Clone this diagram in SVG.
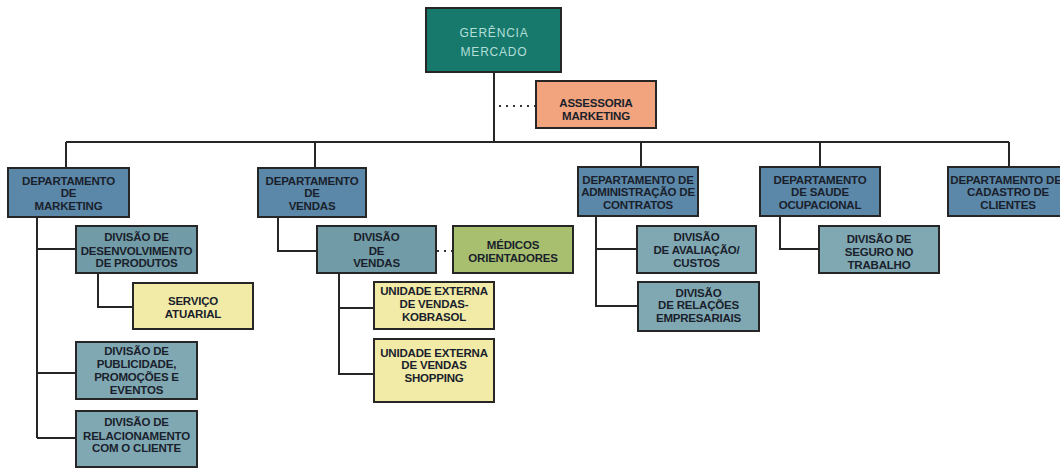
<svg xmlns="http://www.w3.org/2000/svg" width="1060" height="469" viewBox="0 0 1060 469">
<style>
.bx{stroke:#262626;stroke-width:2}
.top{fill:#16796c}
.adv{fill:#f1a47d}
.dep{fill:#5b87a8}
.div{fill:#719ba6}
.divl{fill:#80a8b3}
.yel{fill:#f2eba8}
.grn{fill:#a8bf6f}
.t{font-family:"Liberation Sans",Arial,sans-serif;font-weight:bold;font-size:11.5px;letter-spacing:-0.2px;fill:#1a1f2c;text-anchor:middle}
.tt{font-family:"Liberation Sans",Arial,sans-serif;font-size:12px;letter-spacing:0.8px;fill:#b3ded8;text-anchor:middle}
.ln{stroke:#262626;stroke-width:2;fill:none}
.dot{stroke:#333;stroke-width:2;fill:none;stroke-dasharray:2 5}
</style>
<rect width="1060" height="469" fill="#ffffff"/>
<g id="connectors">
<path class="ln" d="M494 72V142M66 142H1009M66 142V168M315 142V168M641 142V167M820 142V167M1009 142V167"/>
<path class="dot" d="M499 106H536"/>
<path class="ln" d="M37 217V438M37 249H76M37 373H76M37 438H76"/>
<path class="ln" d="M98 273V307H133"/>
<path class="ln" d="M278 217V251H317"/>
<path class="dot" d="M437 251H453"/>
<path class="ln" d="M339 273V374H374M339 308H374"/>
<path class="ln" d="M596 216V306H638M596 249H637"/>
<path class="ln" d="M780 216V249H819"/>
</g>
<g id="gerencia">
<rect class="bx top" x="426" y="8" width="135" height="64"/>
<text class="tt" x="494" y="37">GERÊNCIA</text>
<text class="tt" x="494" y="56">MERCADO</text>
</g>
<g id="assessoria">
<rect class="bx adv" x="536" y="81" width="120" height="47"/>
<text class="t" x="596" y="106.5">ASSESSORIA</text>
<text class="t" x="596" y="120">MARKETING</text>
</g>
<g id="dep_marketing">
<rect class="bx dep" x="8" y="168" width="121" height="49"/>
<text class="t" x="68.5" y="184.5">DEPARTAMENTO</text>
<text class="t" x="68.5" y="197">DE</text>
<text class="t" x="68.5" y="210">MARKETING</text>
</g>
<g id="dep_vendas">
<rect class="bx dep" x="258" y="168" width="108" height="49"/>
<text class="t" x="312" y="184.5">DEPARTAMENTO</text>
<text class="t" x="312" y="197">DE</text>
<text class="t" x="312" y="210">VENDAS</text>
</g>
<g id="dep_admin">
<rect class="bx dep" x="578" y="167" width="120" height="49"/>
<text class="t" x="638" y="183.5">DEPARTAMENTO DE</text>
<text class="t" x="638" y="196">ADMINISTRAÇÃO DE</text>
<text class="t" x="638" y="209">CONTRATOS</text>
</g>
<g id="dep_saude">
<rect class="bx dep" x="760" y="167" width="120" height="49"/>
<text class="t" x="820" y="183.5">DEPARTAMENTO</text>
<text class="t" x="820" y="196">DE SAUDE</text>
<text class="t" x="820" y="209">OCUPACIONAL</text>
</g>
<g id="dep_cadastro">
<rect class="bx dep" x="948" y="167" width="120" height="49"/>
<text class="t" x="1006" y="183.5">DEPARTAMENTO DE</text>
<text class="t" x="1008" y="196">CADASTRO DE</text>
<text class="t" x="1008" y="209">CLIENTES</text>
</g>
<g id="div_desenvolvimento">
<rect class="bx div" x="76" y="226" width="121" height="47"/>
<text class="t" x="136.5" y="241">DIVISÃO DE</text>
<text class="t" x="136.5" y="254.5">DESENVOLVIMENTO</text>
<text class="t" x="136.5" y="267">DE PRODUTOS</text>
</g>
<g id="servico_atuarial">
<rect class="bx yel" x="133" y="283" width="120" height="46"/>
<text class="t" x="193" y="305">SERVIÇO</text>
<text class="t" x="193" y="318">ATUARIAL</text>
</g>
<g id="div_publicidade">
<rect class="bx divl" x="76" y="342" width="121" height="57"/>
<text class="t" x="136.5" y="355">DIVISÃO DE</text>
<text class="t" x="136.5" y="367.5">PUBLICIDADE,</text>
<text class="t" x="136.5" y="381">PROMOÇÕES E</text>
<text class="t" x="136.5" y="394">EVENTOS</text>
</g>
<g id="div_relacionamento">
<rect class="bx divl" x="76" y="411" width="121" height="56"/>
<text class="t" x="136.5" y="425.5">DIVISÃO DE</text>
<text class="t" x="136.5" y="439.5">RELACIONAMENTO</text>
<text class="t" x="136.5" y="452">COM O CLIENTE</text>
</g>
<g id="div_vendas">
<rect class="bx div" x="317" y="226" width="119" height="47"/>
<text class="t" x="376.5" y="241">DIVISÃO</text>
<text class="t" x="376.5" y="254.5">DE</text>
<text class="t" x="376.5" y="267">VENDAS</text>
</g>
<g id="medicos">
<rect class="bx grn" x="453" y="226" width="120" height="47"/>
<text class="t" x="513" y="249">MÉDICOS</text>
<text class="t" x="513" y="262">ORIENTADORES</text>
</g>
<g id="unidade_kobrasol">
<rect class="bx yel" x="374" y="282" width="120" height="47"/>
<text class="t" x="434" y="295">UNIDADE EXTERNA</text>
<text class="t" x="434" y="308">DE VENDAS-</text>
<text class="t" x="434" y="320.5">KOBRASOL</text>
</g>
<g id="unidade_shopping">
<rect class="bx yel" x="374" y="339" width="120" height="63"/>
<text class="t" x="434" y="356.5">UNIDADE EXTERNA</text>
<text class="t" x="434" y="369">DE VENDAS</text>
<text class="t" x="434" y="382">SHOPPING</text>
</g>
<g id="div_avaliacao">
<rect class="bx divl" x="637" y="226" width="119" height="47"/>
<text class="t" x="696.5" y="241">DIVISÃO</text>
<text class="t" x="696.5" y="254">DE AVALIAÇÃO/</text>
<text class="t" x="696.5" y="267">CUSTOS</text>
</g>
<g id="div_relacoes">
<rect class="bx divl" x="638" y="282" width="121" height="49"/>
<text class="t" x="698.5" y="296.5">DIVISÃO</text>
<text class="t" x="698.5" y="309">DE RELAÇÕES</text>
<text class="t" x="698.5" y="322">EMPRESARIAIS</text>
</g>
<g id="div_seguro">
<rect class="bx divl" x="819" y="226" width="120" height="47"/>
<text class="t" x="879" y="243">DIVISÃO DE</text>
<text class="t" x="879" y="256">SEGURO NO</text>
<text class="t" x="879" y="269">TRABALHO</text>
</g>
</svg>
